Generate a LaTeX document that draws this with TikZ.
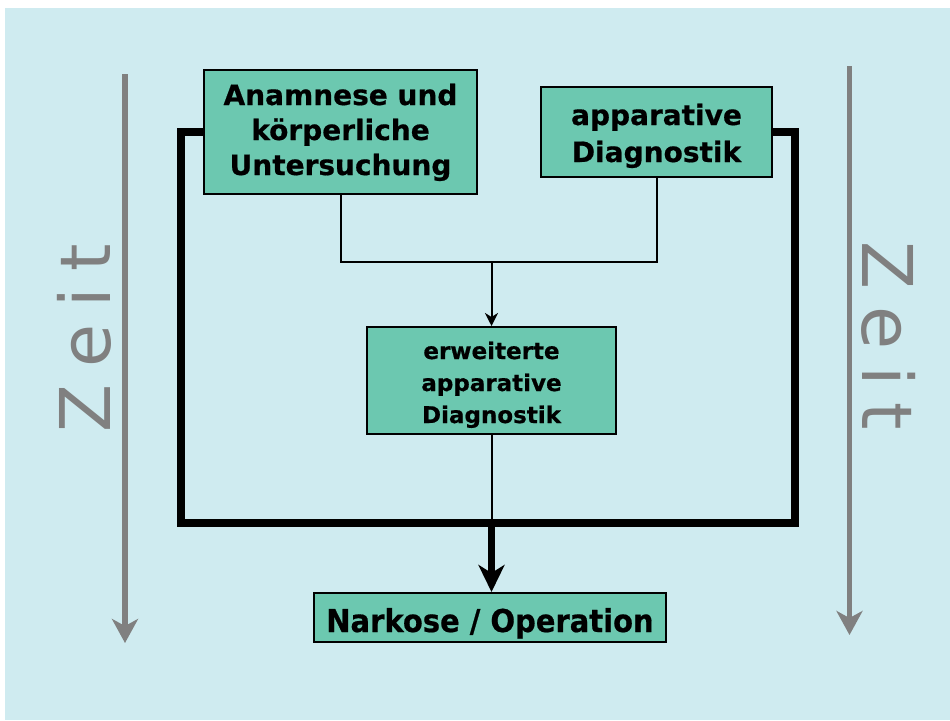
\documentclass[tikz,border=0pt]{standalone}
\usepackage{fontspec}
\setmainfont{DejaVu Sans}[BoldFeatures={FakeBold=0.6}]
\usetikzlibrary{arrows.meta}
\definecolor{bgcyan}{RGB}{207,235,240}
\definecolor{boxgreen}{RGB}{108,200,176}
\definecolor{zeitgray}{RGB}{128,128,128}
\begin{document}
\begin{tikzpicture}[x=1pt,y=-1pt,
  box/.style={draw=black,line width=2pt,fill=boxgreen,rectangle,inner sep=0pt,align=center,font=\bfseries\fontsize{28}{35}\selectfont},
  smallbox/.style={box,font=\bfseries\fontsize{23}{32}\selectfont},
  thin/.style={line width=2pt,black},
  thick/.style={line width=7.5pt,black,line join=miter},
  zeitarrow/.style={line width=5.5pt,zeitgray,-{Stealth[length=24pt,width=26pt,inset=7pt]}},
  zeit/.style={text=zeitgray,font=\fontsize{70}{70}\selectfont\addfontfeature{LetterSpace=24}}
]
\useasboundingbox (0,0) rectangle (950,720);
\fill[white] (0,0) rectangle (950,720);
\fill[bgcyan] (5,8) rectangle (950,720);

% gray time arrows
\coordinate (lt) at (125,74);
\coordinate (lb) at (125,643);
\coordinate (rt) at (849.5,66);
\coordinate (rb) at (849.5,635);
\draw[zeitarrow] (lt) -- (lb);
\draw[zeitarrow] (rt) -- (rb);
\node[zeit,rotate=90] (zl) at (84,338) {Zeit};
\node[zeit,rotate=-90] (zr) at (889,336) {Zeit};

% boxes
\node[box,minimum width=273pt,minimum height=124pt,text height=90pt,text depth=4pt] (b1) at (340.5,132) {Anamnese und\\körperliche\\Untersuchung};
\node[box,minimum width=231pt,minimum height=90pt,text height=64pt,text depth=4pt,font=\bfseries\fontsize{28}{37}\selectfont] (b2) at (656.5,132) {apparative\\Diagnostik};
\node[smallbox,minimum width=249pt,minimum height=107pt,text height=89pt,text depth=4pt] (b3) at (491.5,380.5) {erweiterte\\apparative\\Diagnostik};
\node[box,font=\bfseries\fontsize{31.5}{34}\selectfont\addfontfeature{FakeStretch=0.92},minimum width=352pt,minimum height=49pt,text height=29pt,text depth=0pt] (b4) at (490,617.5) {Narkose / Operation};

% thick frame
\coordinate (bl) at (181,523);
\coordinate (br) at (795,523);
\draw[thick] (b1.west) -| (bl) -- (br) |- (b2.east);
\draw[thick,-{Stealth[length=27pt,width=26pt,inset=8pt]}] (b3.south |- bl) -- (b3.south |- b4.north);

% thin connectors
\coordinate (j) at (491.5,262);
\draw[thin] (b1.south) |- (j) -| (b2.south);
\draw[thin,-{Stealth[length=13pt,width=13pt,inset=4pt]}] (j) -- (b3.north);
\draw[thin] (b3.south) -- (b3.south |- bl);
\end{tikzpicture}
\end{document}
